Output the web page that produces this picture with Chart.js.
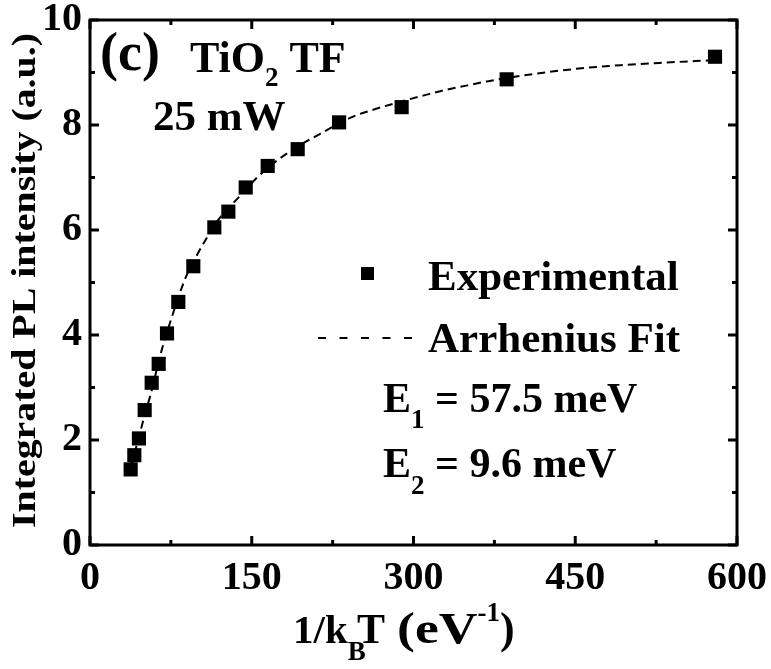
<!DOCTYPE html>
<html>
<head>
<meta charset="utf-8">
<script src="https://cdn.jsdelivr.net/npm/chart.js@4.4.1/dist/chart.umd.min.js"></script>
<style>
  body { margin: 0; background: #fff; }
  #wrap { width: 771px; height: 669px; }
</style>
</head>
<body>
<div id="wrap"><canvas id="plChart" width="771" height="669"></canvas></div>
<script>
// puntos experimentales (1/kBT en eV^-1, intensidad PL en u.a.)
const expX = [37.7, 41.1, 45.4, 50.7, 57.2, 63.7, 71.4, 81.9, 95.8, 115.3, 128.3, 144.4, 164.8, 192.6, 231.0, 289.0, 386.4, 579.6];
const expY = [1.44, 1.71, 2.03, 2.57, 3.09, 3.45, 4.03, 4.63, 5.31, 6.05, 6.35, 6.81, 7.22, 7.54, 8.05, 8.34, 8.87, 9.30];

// curva del ajuste de Arrhenius
const fitX = [38, 42, 46, 51, 56, 62, 67, 74, 80, 86, 92, 98, 108, 120, 130, 141, 155, 170, 192, 215, 244, 264, 289, 309, 328, 349, 368, 411, 451, 492, 535, 575];
const fitY = [1.50, 1.80, 2.10, 2.50, 2.85, 3.35, 3.75, 4.22, 4.60, 4.95, 5.25, 5.48, 5.84, 6.22, 6.45, 6.69, 7.00, 7.27, 7.58, 7.85, 8.16, 8.30, 8.45, 8.56, 8.66, 8.75, 8.83, 8.97, 9.07, 9.14, 9.19, 9.23];

// marcas de los ejes
const xTicks = [0, 150, 300, 450, 600];
const yTicks = [0, 2, 4, 6, 8, 10];

const FONT = '"Liberation Serif", "Times New Roman", serif';

// escribe texto con subindices / superindices (sx estira en horizontal)
function richText(ctx, parts, x, y) {
    let cx = x;
    parts.forEach(p => {
        ctx.font = 'bold ' + p.size + 'px ' + FONT;
        if (p.x !== undefined) cx = p.x;
        const sx = p.sx || 1;
        ctx.save();
        ctx.translate(cx, y + (p.dy || 0));
        ctx.scale(sx, 1);
        ctx.fillText(p.t, 0, 0);
        ctx.restore();
        cx += ctx.measureText(p.t).width * sx;
    });
}

// marco, ticks hacia adentro, leyenda y textos
const decoPlugin = {
    id: 'deco',
    afterDraw(chart) {
        const ctx = chart.ctx;
        const a = chart.chartArea;
        const xs = chart.scales.x, ys = chart.scales.y;
        ctx.save();
        ctx.strokeStyle = '#000';
        ctx.fillStyle = '#000';
        ctx.lineWidth = 3;
        ctx.strokeRect(a.left, a.top, a.right - a.left, a.bottom - a.top);

        const seg = (x1, y1, x2, y2) => { ctx.beginPath(); ctx.moveTo(x1, y1); ctx.lineTo(x2, y2); ctx.stroke(); };
        // ticks eje x (mayores y menores)
        for (let i = 0; i < xTicks.length; i++) {
            const px = xs.getPixelForValue(xTicks[i]);
            seg(px, a.bottom, px, a.bottom - 9);
            seg(px, a.top, px, a.top + 9);
            if (i < xTicks.length - 1) {
                const pm = xs.getPixelForValue((xTicks[i] + xTicks[i + 1]) / 2);
                seg(pm, a.bottom, pm, a.bottom - 5);
                seg(pm, a.top, pm, a.top + 5);
            }
        }
        // ticks eje y
        for (let i = 0; i < yTicks.length; i++) {
            const py = ys.getPixelForValue(yTicks[i]);
            seg(a.left, py, a.left + 9, py);
            seg(a.right, py, a.right - 9, py);
            if (i < yTicks.length - 1) {
                const pm = ys.getPixelForValue((yTicks[i] + yTicks[i + 1]) / 2);
                seg(a.left, pm, a.left + 5, pm);
                seg(a.right, pm, a.right - 5, pm);
            }
        }

        ctx.textAlign = 'left';
        ctx.textBaseline = 'alphabetic';
        // etiquetas dentro de la grafica
        richText(ctx, [{ t: '(c)', size: 54 }], 100, 70);
        richText(ctx, [{ t: 'TiO', size: 44 }, { t: '2', size: 27, dy: 14 }, { t: ' TF', size: 44 }], 190, 72);
        richText(ctx, [{ t: '25 mW', size: 43 }], 153, 130);

        // leyenda
        ctx.fillRect(361, 267, 13, 13);
        richText(ctx, [{ t: 'Experimental', size: 43 }], 428, 290);
        ctx.lineWidth = 2;
        ctx.setLineDash([8, 13.5]);
        seg(318, 338, 414, 338);
        ctx.setLineDash([]);
        richText(ctx, [{ t: 'Arrhenius Fit', size: 43 }], 428, 352);

        richText(ctx, [{ t: 'E', size: 42 }, { t: '1', size: 27, dy: 16 }, { t: ' = 57.5 meV', size: 42 }], 383, 412);
        richText(ctx, [{ t: 'E', size: 42 }, { t: '2', size: 27, dy: 17 }, { t: ' = 9.6 meV', size: 42 }], 383, 477);

        // titulo eje x
        richText(ctx, [
            { t: '1/k', size: 41 },
            { t: 'B', size: 27, dy: 17 },
            { t: 'T', size: 42, x: 357 },
            { t: '(eV', size: 44, x: 397, sx: 1.22 },
            { t: '-1', size: 27, dy: -22 },
            { t: ')', size: 44 }
        ], 293, 643);

        // titulo eje y (estirado para ocupar lo mismo que en la figura)
        ctx.translate(35, 528);
        ctx.rotate(-Math.PI / 2);
        ctx.font = 'bold 33px ' + FONT;
        const yTitle = 'Integrated PL intensity (a.u.)';
        const w = ctx.measureText(yTitle).width;
        richText(ctx, [{ t: yTitle, size: 33, sx: 495 / w }], 0, 0);
        ctx.restore();
    }
};

const ctx = document.getElementById('plChart').getContext('2d');
new Chart(ctx, {
    type: 'scatter',
    data: {
        datasets: [
            {
                label: 'Arrhenius Fit',
                data: fitX.map((x, i) => ({ x: x, y: fitY[i] })),
                showLine: true,
                borderColor: '#000',
                borderWidth: 2,
                borderDash: [8, 5],
                pointRadius: 0,
                cubicInterpolationMode: 'monotone'
            },
            {
                label: 'Experimental',
                data: expX.map((x, i) => ({ x: x, y: expY[i] })),
                pointStyle: 'rect',
                pointRadius: 10,
                pointBorderWidth: 0,
                backgroundColor: '#000',
                borderColor: '#000'
            }
        ]
    },
    options: {
        responsive: false,
        animation: false,
        layout: { padding: { top: 20, right: 34, left: 0, bottom: 0 } },
        plugins: { legend: { display: false }, tooltip: { enabled: false } },
        scales: {
            x: {
                type: 'linear', min: 0, max: 600,
                afterBuildTicks: s => { s.ticks = xTicks.map(v => ({ value: v })); },
                grid: { display: false, drawTicks: false },
                border: { display: false },
                ticks: { color: '#000', padding: 14, font: { family: FONT, weight: 'bold', size: 40, lineHeight: 1 } },
                afterFit: s => { s.height = 124; s.paddingLeft = 0; s.paddingRight = 0; }
            },
            y: {
                type: 'linear', min: 0, max: 10,
                afterBuildTicks: s => { s.ticks = yTicks.map(v => ({ value: v })); },
                grid: { display: false, drawTicks: false },
                border: { display: false },
                ticks: { color: '#000', padding: 8, font: { family: FONT, weight: 'bold', size: 40, lineHeight: 1 } },
                afterFit: s => { s.width = 90; s.paddingTop = 0; s.paddingBottom = 0; }
            }
        }
    },
    plugins: [decoPlugin]
});
</script>
</body>
</html>
